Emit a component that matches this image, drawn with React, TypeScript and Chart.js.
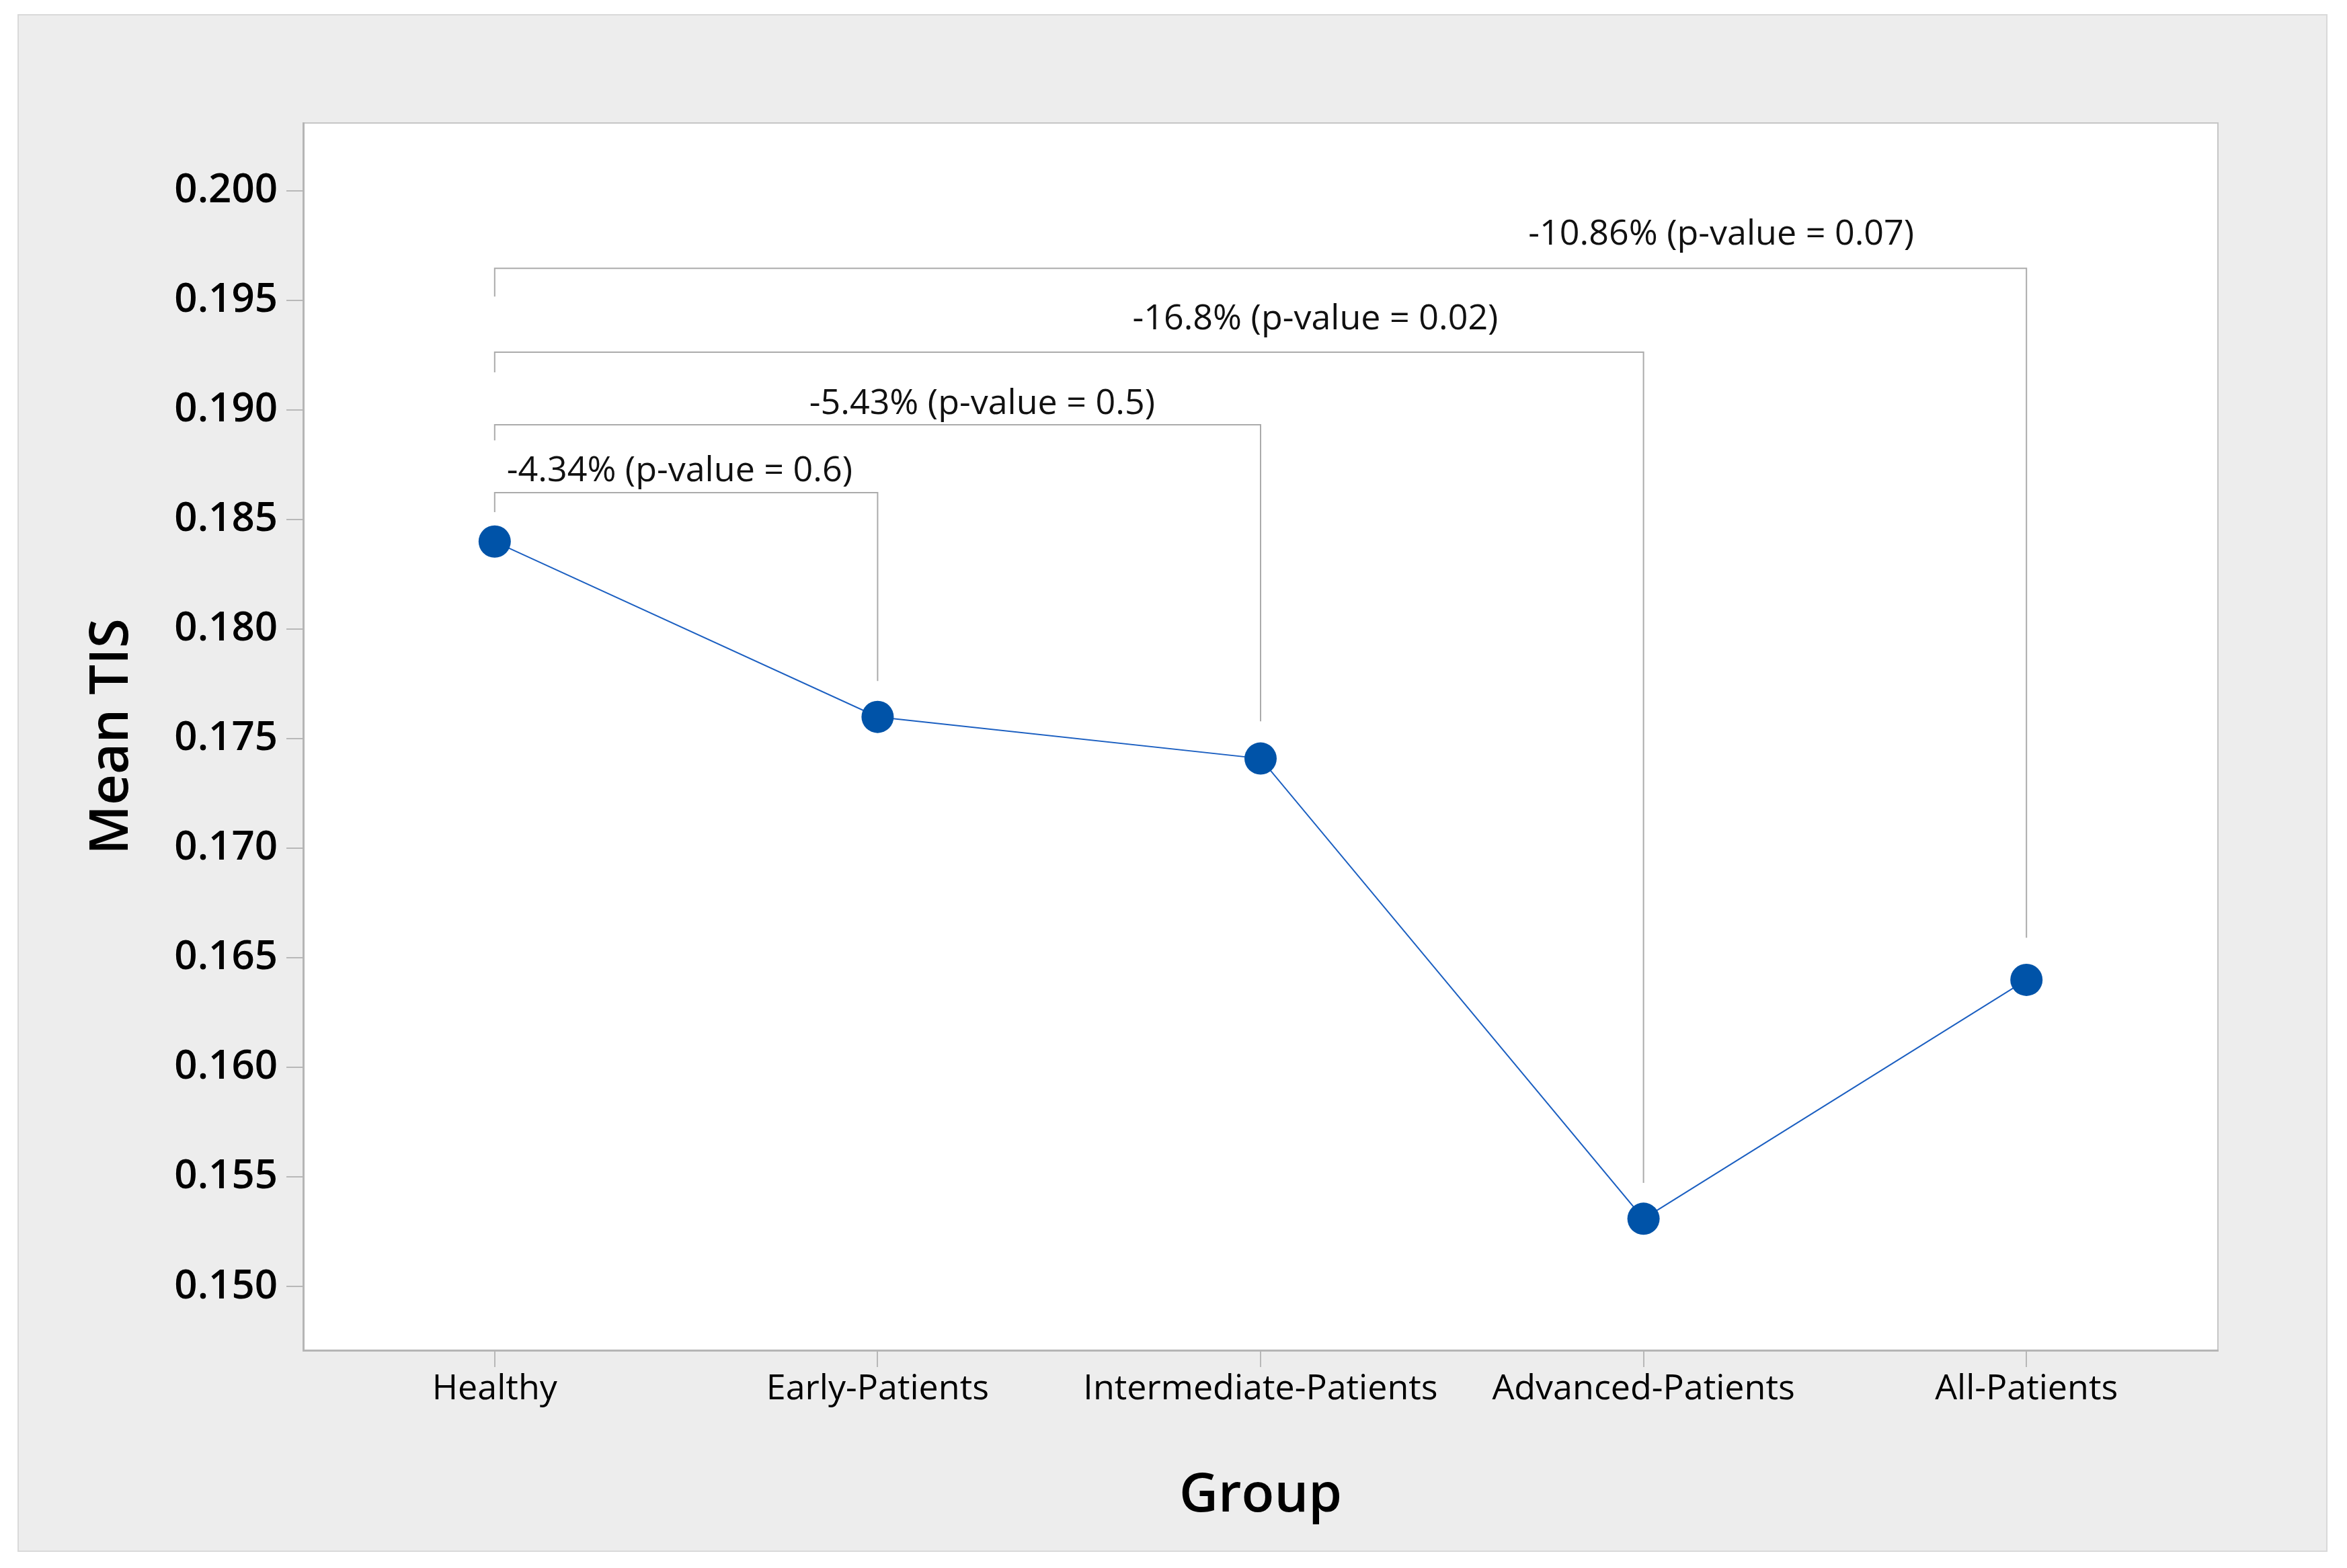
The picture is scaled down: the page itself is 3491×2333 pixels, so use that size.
import React, { useEffect, useRef } from "react";
import { Chart, registerables } from "chart.js";

Chart.register(...registerables);

const FONT = "'Open Sans', 'Noto Sans', sans-serif";

// ---- data ----
const categories = [
  "Healthy",
  "Early-Patients",
  "Intermediate-Patients",
  "Advanced-Patients",
  "All-Patients",
];
const meanTIS = [0.184, 0.176, 0.1741, 0.1531, 0.164];
const yTickValues = [0.15, 0.155, 0.16, 0.165, 0.17, 0.175, 0.18, 0.185, 0.19, 0.195, 0.2];
const yMin = 0.1471;
const yMax = 0.2031;

// ---- comparison brackets (all against Healthy, index 0) ----
const bracketLabels = [
  "-4.34% (p-value = 0.6)",
  "-5.43% (p-value = 0.5)",
  "-16.8% (p-value = 0.02)",
  "-10.86% (p-value = 0.07)",
];
const bracketTargets = [1, 2, 3, 4];
const bracketTop = [0.18623, 0.18933, 0.19264, 0.19647];
const bracketLeftEnd = [0.18534, 0.18862, 0.19172, 0.19518];
const bracketRightEnd = [0.17764, 0.1758, 0.15474, 0.16592];
const labelXPos = [0.483, 1.273, 2.143, 3.203];
const labelYPos = [0.18721, 0.19026, 0.19415, 0.19801];

const bgPlugin = {
  id: "bgPanel",
  beforeDraw(chart: any) {
    const { ctx, width, height, chartArea: ca } = chart;
    ctx.save();
    ctx.fillStyle = "#ffffff";
    ctx.fillRect(0, 0, width, height);
    ctx.fillStyle = "#ededed";
    ctx.fillRect(27, 22, 3434, 2286);
    ctx.strokeStyle = "#d9d9d9";
    ctx.lineWidth = 2;
    ctx.strokeRect(27, 22, 3434, 2286);
    ctx.fillStyle = "#ffffff";
    ctx.fillRect(ca.left, ca.top, ca.right - ca.left, ca.bottom - ca.top);
    ctx.strokeStyle = "#c6c6c6";
    ctx.lineWidth = 2;
    ctx.strokeRect(ca.left, ca.top, ca.right - ca.left, ca.bottom - ca.top);
    ctx.restore();
  },
};

const bracketPlugin = {
  id: "brackets",
  beforeDatasetsDraw(chart: any) {
    const { ctx } = chart;
    const xs = chart.scales.x;
    const ys = chart.scales.y;
    ctx.save();
    ctx.strokeStyle = "#ababab";
    ctx.lineWidth = 2;
    for (let i = 0; i < bracketLabels.length; i++) {
      const xL = xs.getPixelForValue(0);
      const xR = xs.getPixelForValue(bracketTargets[i]);
      const yT = ys.getPixelForValue(bracketTop[i]);
      const yLE = ys.getPixelForValue(bracketLeftEnd[i]);
      const yRE = ys.getPixelForValue(bracketRightEnd[i]);
      ctx.beginPath();
      ctx.moveTo(xL, yLE);
      ctx.lineTo(xL, yT);
      ctx.lineTo(xR, yT);
      ctx.lineTo(xR, yRE);
      ctx.stroke();
    }
    ctx.fillStyle = "#111111";
    ctx.font = `52px ${FONT}`;
    ctx.textAlign = "center";
    ctx.textBaseline = "middle";
    for (let i = 0; i < bracketLabels.length; i++) {
      ctx.fillText(
        bracketLabels[i],
        xs.getPixelForValue(labelXPos[i]),
        ys.getPixelForValue(labelYPos[i])
      );
    }
    ctx.restore();
  },
};

export default function App() {
  const ref = useRef<HTMLCanvasElement | null>(null);

  useEffect(() => {
    document.body.style.margin = "0";
    document.body.style.overflow = "hidden";
    const canvas = ref.current;
    if (!canvas) return;
    const chart = new Chart(canvas, {
      type: "line",
      data: {
        labels: categories,
        datasets: [
          {
            data: meanTIS,
            borderColor: "#1b5fc1",
            borderWidth: 2,
            pointRadius: 24,
            pointHoverRadius: 24,
            pointBackgroundColor: "#0053a8",
            pointBorderColor: "#0053a8",
            pointBorderWidth: 0,
            tension: 0,
            fill: false,
          },
        ],
      },
      options: {
        animation: false,
        responsive: false,
        devicePixelRatio: 1,
        layout: { padding: { left: 0, top: 183, right: 192, bottom: 0 } },
        plugins: {
          legend: { display: false },
          tooltip: { enabled: false },
        },
        scales: {
          x: {
            type: "category",
            offset: true,
            afterFit: (s: any) => {
              s.height = 324;
            },
            grid: {
              offset: false,
              drawOnChartArea: false,
              drawTicks: true,
              tickLength: 25,
              color: "#b8b8b8",
              lineWidth: 2,
            },
            border: { display: true, color: "#b5b5b5", width: 3 },
            ticks: {
              font: { family: FONT, size: 52 },
              color: "#000000",
              padding: 2,
              maxRotation: 0,
              autoSkip: false,
            },
            title: {
              display: true,
              text: "Group",
              font: { family: FONT, size: 80, weight: "600" },
              color: "#000000",
              padding: { top: 0, bottom: 59 },
            },
          },
          y: {
            type: "linear",
            min: yMin,
            max: yMax,
            afterBuildTicks: (s: any) => {
              s.ticks = yTickValues.map((v) => ({ value: v }));
            },
            afterFit: (s: any) => {
              s.width = 451;
            },
            grid: {
              drawOnChartArea: false,
              drawTicks: true,
              tickLength: 25,
              color: "#b8b8b8",
              lineWidth: 2,
            },
            border: { display: true, color: "#b5b5b5", width: 3 },
            ticks: {
              font: { family: FONT, size: 60, weight: "600" },
              color: "#000000",
              padding: 13,
              callback: (v: any) => Number(v).toFixed(3),
            },
            title: {
              display: true,
              text: "Mean TIS",
              font: { family: FONT, size: 80, weight: "600" },
              color: "#000000",
              padding: { top: 119, bottom: 0 },
            },
          },
        },
      },
      plugins: [bgPlugin, bracketPlugin],
    });
    return () => chart.destroy();
  }, []);

  return (
    <div style={{ width: 3491, height: 2333 }}>
      <canvas ref={ref} width={3491} height={2333} style={{ display: "block" }} />
    </div>
  );
}
